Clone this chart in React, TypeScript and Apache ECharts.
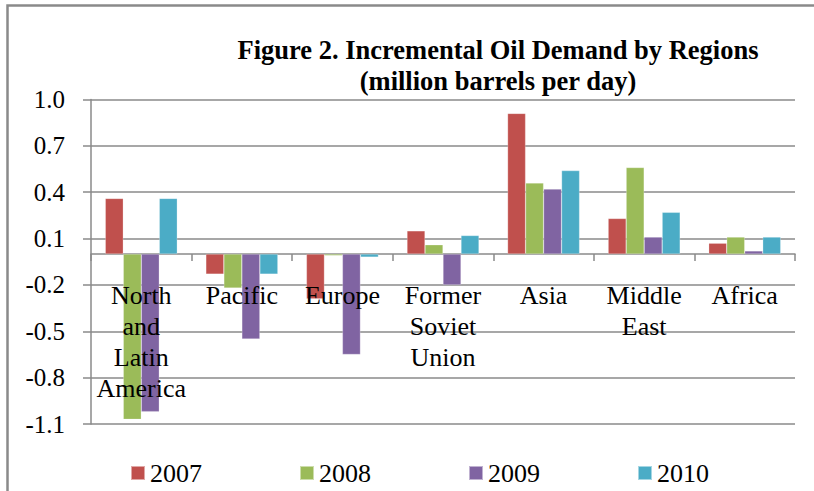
import React, { useEffect, useRef } from "react";
import * as echarts from "echarts";

const categories = [
  "North\nand\nLatin\nAmerica",
  "Pacific",
  "Europe",
  "Former\nSoviet\nUnion",
  "Asia",
  "Middle\nEast",
  "Africa",
];
const years = ["2007", "2008", "2009", "2010"];
const values2007 = [0.36, -0.13, -0.29, 0.15, 0.91, 0.23, 0.07];
const values2008 = [-1.07, -0.22, -0.01, 0.06, 0.46, 0.56, 0.11];
const values2009 = [-1.02, -0.55, -0.65, -0.2, 0.42, 0.11, 0.02];
const values2010 = [0.36, -0.13, -0.02, 0.12, 0.54, 0.27, 0.11];
const colors = ["#C0504D", "#9BBB59", "#8064A2", "#4BACC6"];

const FONT = "'Liberation Serif', 'Times New Roman', serif";
const GRAY = "#8a8a8a";

export default function App() {
  const ref = useRef<HTMLDivElement>(null);
  useEffect(() => {
    if (!ref.current) return;
    const chart = echarts.init(ref.current, undefined, { renderer: "svg" });
    const seriesData = [values2007, values2008, values2009, values2010];
    chart.setOption({
      animation: false,
      backgroundColor: "#ffffff",
      textStyle: { fontFamily: FONT },
      title: {
        text: "Figure 2. Incremental Oil Demand by Regions\n(million barrels per day)",
        left: 493,
        top: 29,
        textAlign: "center",
        textStyle: {
          fontFamily: FONT,
          fontSize: 26.5,
          fontWeight: "bold",
          color: "#000",
          lineHeight: 31,
        },
      },
      graphic: [
        {
          type: "rect",
          shape: { x: 7.5, y: 5.5, width: 850, height: 520 },
          style: { fill: "none", stroke: GRAY, lineWidth: 2.5 },
          silent: true,
        },
      ],
      legend: {
        data: years,
        bottom: 5,
        left: 130,
        padding: 0,
        itemWidth: 14,
        itemHeight: 14,
        itemGap: 97,
        icon: "rect",
        textStyle: { fontFamily: FONT, fontSize: 26, color: "#000" },
      },
      grid: {
        left: 91,
        right: 19,
        top: 99.5,
        bottom: 67,
        containLabel: false,
        outerBoundsMode: "none",
      },
      xAxis: [
        {
          type: "category",
          data: categories,
          axisLine: { show: true, onZero: true, lineStyle: { color: GRAY, width: 1.5 } },
          axisTick: { show: true, length: 7, lineStyle: { color: GRAY, width: 1.5 } },
          axisLabel: { show: false },
          splitLine: { show: false },
        },
        {
          type: "category",
          data: categories,
          position: "bottom",
          offset: -170.2,
          z: 10,
          axisLine: { show: false, onZero: false },
          axisTick: { show: false },
          axisLabel: {
            interval: 0,
            fontFamily: FONT,
            fontSize: 26,
            lineHeight: 31,
            color: "#000",
            margin: 26,
          },
          splitLine: { show: false },
        },
      ],
      yAxis: {
        type: "value",
        min: -1.1,
        max: 1.0,
        interval: 0.3,
        axisLine: { show: true, lineStyle: { color: GRAY, width: 1.5 } },
        axisTick: { show: true, length: 8, lineStyle: { color: GRAY, width: 1.5 } },
        axisLabel: {
          fontFamily: FONT,
          fontSize: 25,
          color: "#000",
          margin: 26,
          formatter: (v: number) => v.toFixed(1),
        },
        splitLine: { show: true, lineStyle: { color: GRAY, width: 1.5 } },
      },
      series: years.map((y, i) => ({
        name: y,
        type: "bar",
        xAxisIndex: 0,
        data: seriesData[i],
        barWidth: 18,
        barGap: "0%",
        itemStyle: { color: colors[i], borderColor: "rgba(255,255,255,0.5)", borderWidth: 0.5 },
      })),
    });
    return () => chart.dispose();
  }, []);
  return (
    <div
      ref={ref}
      style={{ position: "fixed", left: 0, top: 0, width: 814, height: 491 }}
    />
  );
}
